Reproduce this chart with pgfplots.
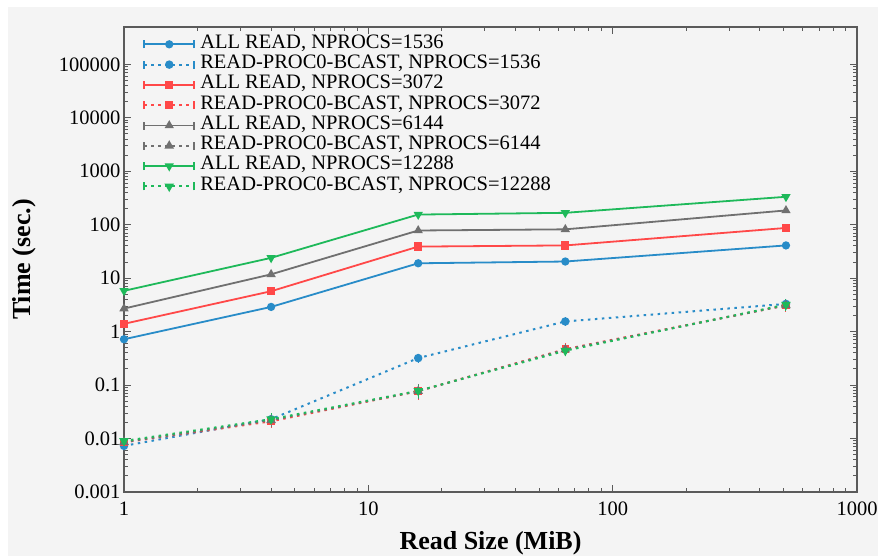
\documentclass[border=0pt]{standalone}
\usepackage{fontspec}
\setmainfont{Liberation Serif}
\usepackage{pgfplots}
\pgfplotsset{compat=1.18}

\definecolor{bggrey}{RGB}{244,244,244}
\definecolor{axgrey}{RGB}{90,90,90}
\definecolor{cblue}{RGB}{40,140,200}
\definecolor{cred}{RGB}{255,72,72}
\definecolor{cgrey}{RGB}{112,112,112}
\definecolor{cgreen}{RGB}{30,185,90}

\pgfplotsset{
  errlegend/.style={legend image code/.code={
    \draw[mark repeat=2,mark phase=2,##1] plot coordinates {(0pt,0pt) (25pt,0pt) (50pt,0pt)};
    \draw[##1,solid,mark=none] (0pt,-4pt) -- (0pt,4pt) (50pt,-4pt) -- (50pt,4pt);
  }},
  solidser/.style={solid,line width=1.8pt,mark size=3.2pt},
  dotser/.style={line width=2pt,dash pattern=on 2.5pt off 4.5pt,mark size=3.2pt,
    error bars/y dir=both,error bars/y explicit,
    error bars/error bar style={line width=1pt,solid},
    error bars/error mark options={line width=1pt,mark size=3pt}},
}

\begin{document}
\begin{tikzpicture}
\fill[bggrey] (-116pt,-64pt) rectangle (754pt,485pt);
\begin{axis}[at={(0pt,0pt)},anchor=south west,
  scale only axis,width=733pt,height=465pt,
  xmode=log,ymode=log,
  xmin=1,xmax=1000,ymin=0.001,ymax=5e5,
  xtick={1,10,100,1000},xticklabels={1,10,100,1000},
  ytick={0.001,0.01,0.1,1,10,100,1000,10000,100000},
  yticklabels={0.001,0.01,0.1,1,10,100,1000,10000,100000},
  tick label style={font=\fontsize{20.5}{24}\selectfont},
  xticklabel style={yshift=-6pt},
  label style={font=\fontsize{26}{30}\selectfont\bfseries},
  xlabel={Read Size (MiB)},ylabel={Time (sec.)},
  xlabel style={at={(axis description cs:0.5,-0.1247)},anchor=base},
  ylabel style={at={(axis description cs:-0.1364,0.5)},anchor=center},
  axis line style={axgrey,line width=1.2pt},
  every tick/.style={axgrey,line width=1pt},
  major tick length=7pt,minor tick length=4pt,
  errlegend,
  legend cell align=left,
  legend style={draw=none,fill=none,at={(axis description cs:0.026,0.985)},anchor=north west,
    font=\fontsize{20.5}{20}\selectfont,inner sep=0pt,row sep=0pt,
    nodes={inner ysep=0pt,text height=14pt,text depth=6.3pt,inner xsep=5pt}},
]
\addplot[cblue,solidser,mark=*] coordinates {(1,0.72) (4,2.9) (16,19) (64,20.5) (512,41)};
\addlegendentry{ALL READ, NPROCS=1536}
\addplot[cblue,dotser,mark=*,mark options={solid}] coordinates {(1,0.0073) +- (0,0.0006) (4,0.023) +- (0,0.002) (16,0.32) +- (0,0.02) (64,1.55) +- (0,0.08) (512,3.3) +- (0,0.2)};
\addlegendentry{READ-PROC0-BCAST, NPROCS=1536}
\addplot[cred,solidser,mark=square*] coordinates {(1,1.4) (4,5.7) (16,39) (64,41) (512,87)};
\addlegendentry{ALL READ, NPROCS=3072}
\addplot[cred,dotser,mark=square*,mark size=2.8pt,mark options={solid}] coordinates {(1,0.0085) +- (0,0.0008) (4,0.021) +- (0,0.003) (16,0.077) +- (0,0.016) (64,0.47) +- (0,0.07) (512,3.1) +- (0,0.4)};
\addlegendentry{READ-PROC0-BCAST, NPROCS=3072}
\addplot[cgrey,solidser,mark=triangle*,mark size=3.6pt] coordinates {(1,2.7) (4,11.8) (16,78) (64,82) (512,185)};
\addlegendentry{ALL READ, NPROCS=6144}
\addplot[cgrey,dotser,mark=triangle*,mark size=3.6pt,mark options={solid}] coordinates {(1,0.0086) +- (0,0.0008) (4,0.022) +- (0,0.003) (16,0.077) +- (0,0.014) (64,0.46) +- (0,0.06) (512,3.1) +- (0,0.35)};
\addlegendentry{READ-PROC0-BCAST, NPROCS=6144}
\addplot[cgreen,solidser,mark=triangle*,mark size=3.6pt,mark options={rotate=180}] coordinates {(1,5.8) (4,24) (16,155) (64,167) (512,333)};
\addlegendentry{ALL READ, NPROCS=12288}
\addplot[cgreen,dotser,mark=triangle*,mark size=3.6pt,mark options={solid,rotate=180}] coordinates {(1,0.009) +- (0,0.0012) (4,0.023) +- (0,0.003) (16,0.078) +- (0,0.012) (64,0.44) +- (0,0.05) (512,3.2) +- (0,0.4)};
\addlegendentry{READ-PROC0-BCAST, NPROCS=12288}
\end{axis}
\pgfresetboundingbox
\path[use as bounding box] (-124pt,-64pt) rectangle (754pt,492pt);
\end{tikzpicture}
\end{document}
